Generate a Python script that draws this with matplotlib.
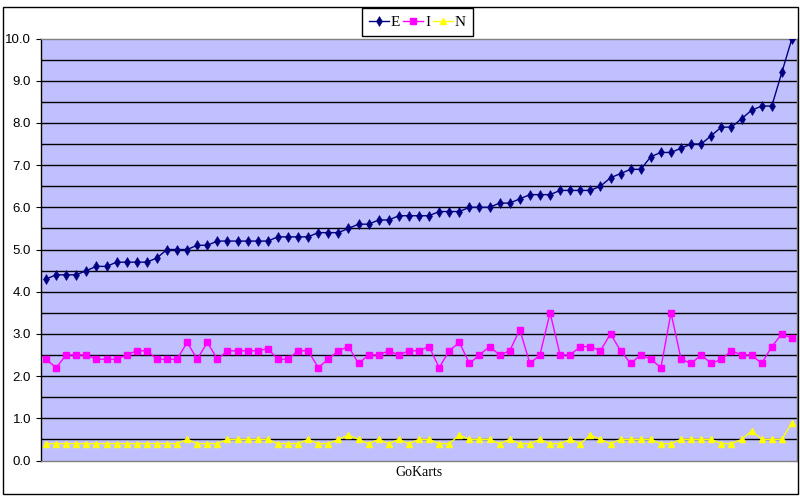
import matplotlib
matplotlib.use("Agg")
import matplotlib.pyplot as plt
from matplotlib.patches import Rectangle
import numpy as np

series_names = ["E", "I", "N"]

E = [4.3, 4.4, 4.4, 4.4, 4.5, 4.6, 4.6, 4.7, 4.7, 4.7,
     4.7, 4.8, 5.0, 5.0, 5.0, 5.1, 5.1, 5.2, 5.2, 5.2,
     5.2, 5.2, 5.2, 5.3, 5.3, 5.3, 5.3, 5.4, 5.4, 5.4,
     5.5, 5.6, 5.6, 5.7, 5.7, 5.8, 5.8, 5.8, 5.8, 5.9,
     5.9, 5.9, 6.0, 6.0, 6.0, 6.1, 6.1, 6.2, 6.3, 6.3,
     6.3, 6.4, 6.4, 6.4, 6.4, 6.5, 6.7, 6.8, 6.9, 6.9,
     7.2, 7.3, 7.3, 7.4, 7.5, 7.5, 7.7, 7.9, 7.9, 8.1,
     8.3, 8.4, 8.4, 9.2, 10.0]

I = [2.4, 2.2, 2.5, 2.5, 2.5, 2.4, 2.4, 2.4, 2.5, 2.6,
     2.6, 2.4, 2.4, 2.4, 2.8, 2.4, 2.8, 2.4, 2.6, 2.6,
     2.6, 2.6, 2.65, 2.4, 2.4, 2.6, 2.6, 2.2, 2.4, 2.6,
     2.7, 2.3, 2.5, 2.5, 2.6, 2.5, 2.6, 2.6, 2.7, 2.2,
     2.6, 2.8, 2.3, 2.5, 2.7, 2.5, 2.6, 3.1, 2.3, 2.5,
     3.5, 2.5, 2.5, 2.7, 2.7, 2.6, 3.0, 2.6, 2.3, 2.5,
     2.4, 2.2, 3.5, 2.4, 2.3, 2.5, 2.3, 2.4, 2.6, 2.5,
     2.5, 2.3, 2.7, 3.0, 2.9]

N = [0.4, 0.4, 0.4, 0.4, 0.4, 0.4, 0.4, 0.4, 0.4, 0.4,
     0.4, 0.4, 0.4, 0.4, 0.5, 0.4, 0.4, 0.4, 0.5, 0.5,
     0.5, 0.5, 0.5, 0.4, 0.4, 0.4, 0.5, 0.4, 0.4, 0.5,
     0.6, 0.5, 0.4, 0.5, 0.4, 0.5, 0.4, 0.5, 0.5, 0.4,
     0.4, 0.6, 0.5, 0.5, 0.5, 0.4, 0.5, 0.4, 0.4, 0.5,
     0.4, 0.4, 0.5, 0.4, 0.6, 0.5, 0.4, 0.5, 0.5, 0.5,
     0.5, 0.4, 0.4, 0.5, 0.5, 0.5, 0.5, 0.4, 0.4, 0.5,
     0.7, 0.5, 0.5, 0.5, 0.9]

x_label = "GoKarts"
y_ticks = [0, 1, 2, 3, 4, 5, 6, 7, 8, 9, 10]

W, H = 800, 500
fig = plt.figure(figsize=(8, 5), dpi=100)
fig.patch.set_facecolor("white")

left, right, top, bottom = 41, 797, 38.5, 460.5
ax = fig.add_axes([left / W, 1 - bottom / H, (right - left) / W, (bottom - top) / H])
ax.set_facecolor("#C0C0FF")

x = np.arange(len(E))
ax.plot(x, E, color="#000080", lw=1.0, marker="d", ms=5.2, mew=0.4, mfc="#000080", mec="#000080", label="E", zorder=5)
ax.plot(x, I, color="#FF00FF", lw=1.0, marker="s", ms=3.8, mfc="#FF00FF", mec="#FF00FF", label="I", zorder=4)
ax.plot(x, N, color="#FFFF00", lw=1.0, marker="^", ms=4.5, mfc="#FFFF00", mec="#FFFF00", label="N", zorder=4)

ax.set_xlim(-0.5, len(E) - 0.5)
ax.set_ylim(0, 10)
ax.set_yticks(y_ticks)
ax.set_yticklabels([f"{v:.1f}" for v in y_ticks], fontfamily="Liberation Sans", fontsize=9.5)
for gy in np.arange(0.5, 10, 0.5):
    ax.axhline(gy, color="black", lw=1.0, zorder=1)
ax.set_xticks([])
ax.tick_params(axis="y", direction="out", length=3.6, width=0.8, pad=3.6, color="black")

for s in ["top", "bottom", "right"]:
    ax.spines[s].set_color("#808080")
    ax.spines[s].set_linewidth(1.0)
ax.spines["left"].set_color("black")
ax.spines["left"].set_linewidth(1.0)

fig.text((left + right) / 2 / W, 1 - 472 / H, x_label, ha="center", va="center",
         fontfamily="Liberation Serif", fontsize=10)

# outer chart border
fig.patches.append(Rectangle((3 / W, 1 - 494 / H), (798 - 3) / W, (494 - 7) / H,
                             transform=fig.transFigure, fill=False, ec="black", lw=1.0))

leg = fig.legend(loc="center", bbox_to_anchor=(417.5 / W, 1 - 22 / H), ncol=3,
                 prop={"family": "Liberation Serif", "size": 11},
                 frameon=True, fancybox=False, edgecolor="black", framealpha=1,
                 handlelength=1.3, handletextpad=0.12, columnspacing=0.2,
                 borderpad=0.45, borderaxespad=0)
leg.get_frame().set_linewidth(1.0)

fig.savefig("out.png", dpi=100, facecolor="white")
